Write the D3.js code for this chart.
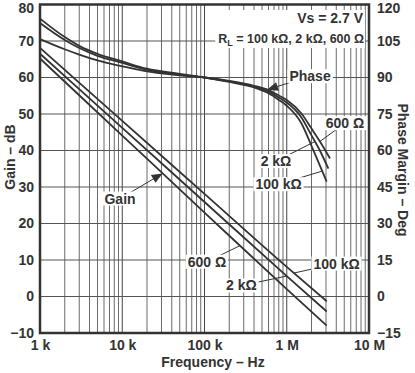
<!DOCTYPE html>
<html><head><meta charset="utf-8">
<script src="https://cdn.jsdelivr.net/npm/d3@7"></script>
<style>
body{margin:0;background:#fff}
svg{display:block}
text{font-family:"Liberation Sans",Arial,sans-serif;font-weight:bold;fill:#333}
</style>
</head><body>
<svg id="c" width="415" height="373"></svg>
<script>
// ---------- data ----------
const gainTicks = [-10, 0, 10, 20, 30, 40, 50, 60, 70, 80];
const phaseTicks = [-15, 0, 15, 30, 45, 60, 75, 90, 105, 120];
const freqTicks = [1e3, 1e4, 1e5, 1e6, 1e7];
const freqTickLabels = ["1 k", "10 k", "100 k", "1 M", "10 M"];
const loads = ["600 Ω", "2 kΩ", "100 kΩ"];

const gainFreq = [1e3, 1e4, 1e5, 1e6, 3.06e6];
const gain600 = [65.2, 44.1, 23.0, 2.0, -8.0];
const gain2k = [66.5, 46.2, 25.9, 5.6, -4.1];
const gain100k = [68.1, 48.1, 28.1, 8.1, -1.3];

const phaseFreq = [1e3, 2e3, 3e3, 5e3, 1e4, 2e4, 5e4, 1e5, 2e5, 4e5, 6e5, 8e5, 1e6, 1.5e6, 2e6, 2.5e6];
const phaseEndFreq = [3.36e6, 3.2e6, 3.06e6];
const phase600 = [114.2, 106.6, 103.0, 99.7, 96.6, 93.6, 91.5, 90.0, 88.6, 86.6, 84.8, 82.6, 80.8, 75.3, 69.0, 64.0, 56.7];
const phase2k = [112.4, 105.4, 102.1, 98.9, 96.0, 93.1, 91.2, 90.0, 88.4, 86.3, 84.2, 81.8, 79.7, 73.7, 66.2, 60.3, 52.6];
const phase100k = [105.8, 101.6, 99.4, 97.0, 94.6, 92.5, 90.9, 90.0, 88.2, 85.9, 83.5, 80.8, 78.4, 71.3, 61.9, 54.2, 47.2];

// annotation labels (data coordinates) : [text, label freq, label value, anchor freq, series index, arrow]
const gainNotes = [
  ["Gain", 9.4e3, 26.8, 3.1e4, 0, true],
  ["600 Ω", 1.07e5, 9.5, 2.7e5, 0, false],
  ["2 kΩ", 2.81e5, 3.0, 1.0e6, 1, false],
  ["100 kΩ", 4.03e6, 9.0, 1.22e6, 2, false]
];
const phaseNotes = [
  ["Phase", 1.92e6, 90.5, 5.75e5, 0, true],
  ["600 Ω", 5.1e6, 71.2, 2.53e6, 0, false],
  ["2 kΩ", 7.4e5, 55.6, 2.2e6, 1, false],
  ["100 kΩ", 7.95e5, 46.1, 2.7e6, 2, false]
];

// ---------- layout ----------
const L = 40, R = 369, T = 4.5, B = 333;
const svg = d3.select("#c");
const x = d3.scaleLog().domain([1e3, 1e7]).range([L, R]);
const yG = d3.scaleLinear().domain([-10, 80]).range([B, T]);
const yP = d3.scaleLinear().domain([-15, 120]).range([B, T]);
const ink = "#333";

// grid
const minor = [];
for (let d = 1e3; d < 1e7; d *= 10) for (let k = 2; k <= 9; k++) minor.push(d * k);
svg.append("g").selectAll("line").data(minor).join("line")
  .attr("x1", d => x(d)).attr("x2", d => x(d)).attr("y1", T).attr("y2", B)
  .attr("stroke", "#6a6a6a").attr("stroke-width", 1);
svg.append("g").selectAll("line").data(freqTicks.slice(1, 4)).join("line")
  .attr("x1", d => x(d)).attr("x2", d => x(d)).attr("y1", T).attr("y2", B)
  .attr("stroke", "#444").attr("stroke-width", 1);
svg.append("g").selectAll("line").data(gainTicks.slice(1, -1)).join("line")
  .attr("x1", L).attr("x2", R).attr("y1", d => yG(d)).attr("y2", d => yG(d))
  .attr("stroke", "#555").attr("stroke-width", 1);

// curves
const lineG = d3.line().x(d => x(d[0])).y(d => yG(d[1])).curve(d3.curveMonotoneX);
const lineP = d3.line().x(d => x(d[0])).y(d => yP(d[1])).curve(d3.curveMonotoneX);
const gainSeries = [gain600, gain2k, gain100k].map(s => s.map((v, i) => [gainFreq[i], v]));
const phaseSeries = [phase600, phase2k, phase100k].map((s, j) =>
  s.map((v, i) => [i < phaseFreq.length ? phaseFreq[i] : phaseEndFreq[j], v]));
svg.append("g").selectAll("path").data(gainSeries).join("path")
  .attr("d", lineG).attr("fill", "none").attr("stroke", ink).attr("stroke-width", 1.8);
svg.append("g").selectAll("path").data(phaseSeries).join("path")
  .attr("d", lineP).attr("fill", "none").attr("stroke", ink).attr("stroke-width", 1.8);

// interpolation on a series in log-frequency
function valueAt(series, f) {
  const lf = Math.log10(f);
  for (let i = 0; i < series.length - 1; i++) {
    const a = Math.log10(series[i][0]), b = Math.log10(series[i + 1][0]);
    if (lf >= a && lf <= b) return series[i][1] + (series[i + 1][1] - series[i][1]) * (lf - a) / (b - a);
  }
  return series[series.length - 1][1];
}

// annotations
const noteLayer = svg.append("g");
function addNotes(notes, series, y) {
  notes.forEach(([t, lf, lv, af, si, arrow]) => {
    const cx = x(lf), cy = y(lv);
    const ax = x(af), ay = y(valueAt(series[si], af));
    const g = noteLayer.append("g");
    g.append("line").attr("x1", cx).attr("y1", cy).attr("x2", ax).attr("y2", ay)
      .attr("stroke", ink).attr("stroke-width", 1);
    if (arrow) {
      const ang = Math.atan2(ay - cy, ax - cx), len = 11, hw = 4.5;
      const bx = ax - len * Math.cos(ang), by = ay - len * Math.sin(ang);
      const px = -Math.sin(ang) * hw, py = Math.cos(ang) * hw;
      g.append("path").attr("d", `M${ax},${ay}L${bx + px},${by + py}L${bx - px},${by - py}Z`).attr("fill", ink);
    }
    const rect = g.append("rect").attr("fill", "#fff");
    const tx = g.append("text").attr("x", cx).attr("y", cy).attr("dy", "0.35em")
      .attr("text-anchor", "middle").style("font-size", "14px").text(t);
    const bb = tx.node().getBBox();
    rect.attr("x", bb.x - 2).attr("y", bb.y + 1).attr("width", bb.width + 4).attr("height", bb.height - 2);
  });
}
addNotes(gainNotes, gainSeries, yG);
addNotes(phaseNotes, phaseSeries, yP);

// condition text
const cond = svg.append("g");
const cbg = cond.append("rect").attr("fill", "#fff");
const t1 = cond.append("text").attr("x", 363).attr("y", 23).attr("text-anchor", "end").style("font-size", "14px");
t1.append("tspan").text("V");
t1.append("tspan").text("s");
t1.append("tspan").text(" = 2.7 V");
const t2 = cond.append("text").attr("x", 364).attr("y", 43).attr("text-anchor", "end").style("font-size", "12.5px");
t2.append("tspan").text("R");
t2.append("tspan").attr("dy", 3).style("font-size", "9px").text("L");
t2.append("tspan").attr("dy", -3).text(" = " + loads.slice().reverse().join(", "));
const b1 = t1.node().getBBox(), b2 = t2.node().getBBox();
cbg.attr("x", Math.min(b1.x, b2.x) - 3).attr("y", b1.y)
  .attr("width", Math.max(b1.x + b1.width, b2.x + b2.width) - Math.min(b1.x, b2.x) + 4)
  .attr("height", b2.y + b2.height - b1.y);

// frame
svg.append("rect").attr("x", L).attr("y", T).attr("width", R - L).attr("height", B - T)
  .attr("fill", "none").attr("stroke", ink).attr("stroke-width", 2.5);

// axes
const fmt = d => d < 0 ? "−" + Math.abs(d) : String(d);
const ax1 = svg.append("g").attr("transform", `translate(${L},0)`)
  .call(d3.axisLeft(yG).tickValues(gainTicks).tickSize(0).tickPadding(6).tickFormat(fmt));
const ax2 = svg.append("g").attr("transform", `translate(${R},0)`)
  .call(d3.axisRight(yP).tickValues(phaseTicks).tickSize(0).tickPadding(8).tickFormat(fmt));
const ax3 = svg.append("g").attr("transform", `translate(0,${B})`)
  .call(d3.axisBottom(x).tickValues(freqTicks).tickSize(0).tickPadding(7).tickFormat((d, i) => freqTickLabels[i]));
[ax1, ax2, ax3].forEach(a => {
  a.select(".domain").remove();
  a.selectAll("text").attr("font-family", null).attr("font-size", null).attr("fill", null).style("font-size", "14px");
});
// keep the top labels inside the picture
ax1.selectAll(".tick").filter(d => d === 80).select("text").attr("dy", "0.55em");
ax2.selectAll(".tick").filter(d => d === 120).select("text").attr("dy", "0.55em");

// titles
svg.append("text").attr("transform", "translate(15,157) rotate(-90)").attr("text-anchor", "middle")
  .style("font-size", "14px").text("Gain – dB");
svg.append("text").attr("transform", "translate(398,170) rotate(90)").attr("text-anchor", "middle")
  .style("font-size", "14px").text("Phase Margin – Deg");
svg.append("text").attr("x", 213).attr("y", 367).attr("text-anchor", "middle")
  .style("font-size", "14px").text("Frequency – Hz");
</script>
</body></html>
